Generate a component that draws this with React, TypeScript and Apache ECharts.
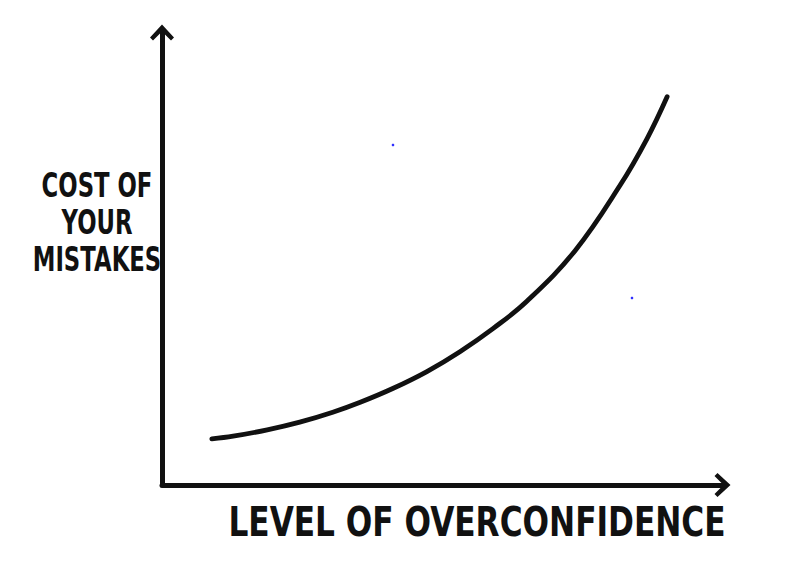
import React, { useEffect, useRef } from "react";
import * as echarts from "echarts";

// Hand-drawn sketch: "cost of your mistakes" vs "level of overconfidence"
const curveX = [8.9, 12.7, 18.8, 24.6, 30.5, 35.4, 41.3, 47.3, 53.2, 59.1, 65.2, 73.8, 81.8, 86.6, 90.2];
const curveY = [10.2, 10.8, 12.2, 13.9, 16.1, 18.3, 21.4, 25.1, 29.5, 34.6, 40.7, 51.9, 66.3, 76.6, 85.9];
const yLabelLines = ["COST OF", "YOUR", "MISTAKES"];
const xLabel = "LEVEL OF OVERCONFIDENCE";

const INK = "#111";
const FONT = '"DejaVu Sans", "Liberation Sans", sans-serif';
const CHEVRON =
  "path://M12,0 L24,13 L21,16 L14,9 L14,17 L10,17 L10,9 L3,16 L0,13 Z";

export default function App() {
  const ref = useRef<HTMLDivElement>(null);

  useEffect(() => {
    if (!ref.current) return;
    const chart = echarts.init(ref.current, undefined, { renderer: "svg" });
    const axisCommon = {
      type: "value" as const,
      min: 0,
      max: 100,
      axisTick: { show: false },
      axisLabel: { show: false },
      splitLine: { show: false },
      axisLine: {
        show: true,
        symbol: ["none", CHEVRON],
        symbolSize: [26, 17],
        lineStyle: { color: INK, width: 5, cap: "round" as const },
      },
    };
    chart.setOption({
      animation: false,
      backgroundColor: "#ffffff",
      grid: { left: 162, right: 65, top: 33, bottom: 85, containLabel: false },
      xAxis: { ...axisCommon },
      yAxis: { ...axisCommon },
      series: [
        {
          type: "line",
          data: curveX.map((x, i) => [x, curveY[i]]),
          smooth: 0.4,
          symbol: "none",
          lineStyle: { color: INK, width: 4.8, cap: "round" },
        },
      ],
      graphic: [
        {
          type: "text",
          x: 97,
          y: 222,
          scaleX: 0.67,
          style: {
            text: yLabelLines.join("\n"),
            fill: INK,
            font: `bold 34px ${FONT}`,
            lineHeight: 37,
            align: "center",
            verticalAlign: "middle",
          },
        },
        {
          type: "text",
          x: 477,
          y: 522,
          scaleX: 0.78,
          style: {
            text: xLabel,
            fill: INK,
            font: `bold 40px ${FONT}`,
            align: "center",
            verticalAlign: "middle",
          },
        },
        { type: "circle", shape: { cx: 393, cy: 145, r: 1.3 }, style: { fill: "#3030ff" } },
        { type: "circle", shape: { cx: 632, cy: 298, r: 1.3 }, style: { fill: "#3030ff" } },
      ],
    });
    return () => chart.dispose();
  }, []);

  return (
    <div
      ref={ref}
      style={{ position: "fixed", left: 0, top: 0, width: 787, height: 570, background: "#fff" }}
    />
  );
}
